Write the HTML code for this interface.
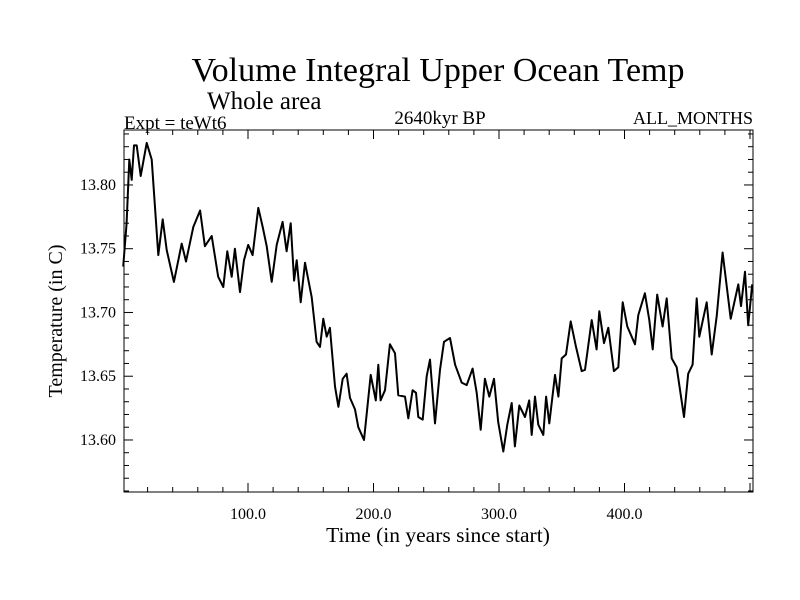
<!DOCTYPE html>
<html><head><meta charset="utf-8"><style>
html,body{margin:0;padding:0;background:#fff;}
svg{display:block;font-family:"Liberation Serif",serif;}
</style></head><body>
<svg id="chart" width="800" height="600">
<text x="438" y="81" font-size="34" text-anchor="middle">Volume Integral Upper Ocean Temp</text>
<text x="207" y="109" font-size="25">Whole area</text>
<text x="124" y="129" font-size="19">Expt = teWt6</text>
<text x="440" y="124" font-size="19" text-anchor="middle">2640kyr BP</text>
<text x="753" y="124" font-size="18" text-anchor="end">ALL_MONTHS</text>
<text x="438" y="542" font-size="21.5" text-anchor="middle">Time (in years since start)</text>
<text transform="translate(62,321) rotate(-90)" font-size="20" text-anchor="middle">Temperature (in C)</text>
<g id="axes"></g>
<path id="series" fill="none" stroke="#000" stroke-width="2" stroke-linejoin="round"/>
<rect x="124" y="130" width="629" height="362" fill="none" stroke="#000" stroke-width="1"/>
</svg>
<script>
const years=[0.6,3.3,5.4,7.3,9.2,11.3,14.5,19.3,23.3,28.5,32.0,35.2,41.0,47.2,50.6,56.4,61.8,65.7,71.1,76.3,80.3,83.5,87.0,89.6,93.6,96.8,100.2,103.7,108.2,111.7,114.9,118.9,122.9,127.6,130.8,134.0,136.7,138.8,142.0,145.4,150.8,154.7,157.4,160.0,162.7,165.3,169.3,172.0,175.5,178.6,181.3,185.3,187.9,192.4,197.8,201.8,203.8,205.7,209.2,213.1,217.1,219.8,225.1,227.7,231.2,233.9,235.7,239.2,242.4,245.0,249.0,253.0,256.2,261.0,265.0,270.3,274.3,279.0,282.2,285.4,288.8,292.3,296.0,299.4,303.4,306.6,310.1,312.7,316.2,320.7,324.1,326.1,328.7,331.3,335.3,337.5,340.1,344.6,347.3,350.0,353.4,357.1,361.4,365.9,368.5,373.9,377.8,379.9,383.7,387.1,391.6,395.1,398.6,402.2,408.4,411.0,416.3,419.8,422.5,426.1,430.4,433.6,437.6,441.6,447.4,450.8,454.3,457.5,459.6,465.5,469.5,473.5,478.2,484.6,490.7,492.8,496.0,498.6,501.8];
const temps=[13.736,13.770,13.820,13.804,13.831,13.831,13.807,13.833,13.820,13.745,13.773,13.749,13.724,13.754,13.740,13.767,13.780,13.752,13.760,13.728,13.720,13.748,13.728,13.750,13.716,13.741,13.753,13.745,13.782,13.767,13.752,13.724,13.753,13.771,13.748,13.770,13.725,13.741,13.708,13.739,13.712,13.677,13.673,13.695,13.681,13.688,13.642,13.626,13.648,13.652,13.633,13.624,13.610,13.600,13.651,13.631,13.659,13.631,13.639,13.675,13.668,13.635,13.634,13.617,13.639,13.637,13.618,13.616,13.650,13.663,13.613,13.655,13.677,13.680,13.659,13.645,13.643,13.656,13.637,13.608,13.648,13.634,13.648,13.614,13.591,13.612,13.629,13.595,13.627,13.618,13.631,13.604,13.634,13.612,13.604,13.634,13.613,13.651,13.634,13.664,13.667,13.693,13.673,13.654,13.655,13.694,13.671,13.701,13.676,13.688,13.654,13.657,13.708,13.689,13.675,13.698,13.715,13.694,13.671,13.714,13.689,13.711,13.664,13.657,13.618,13.652,13.659,13.711,13.681,13.708,13.667,13.697,13.747,13.695,13.722,13.705,13.732,13.690,13.722];
const xTickLabels=["100.0","200.0","300.0","400.0"];
const xTickValues=[100,200,300,400];
const yTickLabels=["13.60","13.65","13.70","13.75","13.80"];
const yTickValues=[13.60,13.65,13.70,13.75,13.80];

const X0=124,X1=753,Y0=130,Y1=492;
const xMin=1.2,xMax=502.4,yMin=13.5592,yMax=13.8431;
function xs(v){return X0+(v-xMin)/(xMax-xMin)*(X1-X0);}
function ys(v){return Y1-(v-yMin)/(yMax-yMin)*(Y1-Y0);}
const NS="http://www.w3.org/2000/svg";
const axes=document.getElementById('axes');
function line(x1,y1,x2,y2,name){
  const l=document.createElementNS(NS,'line');
  l.setAttribute('x1',x1);l.setAttribute('y1',y1);l.setAttribute('x2',x2);l.setAttribute('y2',y2);
  l.setAttribute('stroke','#000');l.setAttribute('stroke-width','1');
  
  
  axes.appendChild(l);
}
function text(x,y,s,anchor,name){
  const t=document.createElementNS(NS,'text');
  t.setAttribute('x',x);t.setAttribute('y',y);t.setAttribute('font-size','16');t.setAttribute('text-anchor',anchor);
  t.textContent=s;
  
  
  axes.appendChild(t);
}
for(let v=20;v<=500;v+=20){
  const x=xs(v);const major=(v%100===0);const len=major?9:5;
  line(x,Y1,x,Y1-len,'x-tick');
  line(x,Y0,x,Y0+len,'x-tick-top');
}
xTickValues.forEach((v,i)=>text(xs(v),519,xTickLabels[i],'middle','x-tick-label'));
for(let k=1356;k<=1384;k++){
  const v=k/100;const y=ys(v);if(y<Y0||y>Y1)continue;
  const major=(k%5===0);const len=major?9:5;
  line(X0,y,X0+len,y,'y-tick');
  line(X1,y,X1-len,y,'y-tick-right');
}
yTickValues.forEach((v,i)=>text(116,ys(v)+5,yTickLabels[i],'end','y-tick-label'));
let d='';
years.forEach((yr,i)=>{d+=(i?'L':'M')+xs(yr).toFixed(1)+','+ys(temps[i]).toFixed(1);});
document.getElementById('series').setAttribute('d',d);
</script>
</body></html>
